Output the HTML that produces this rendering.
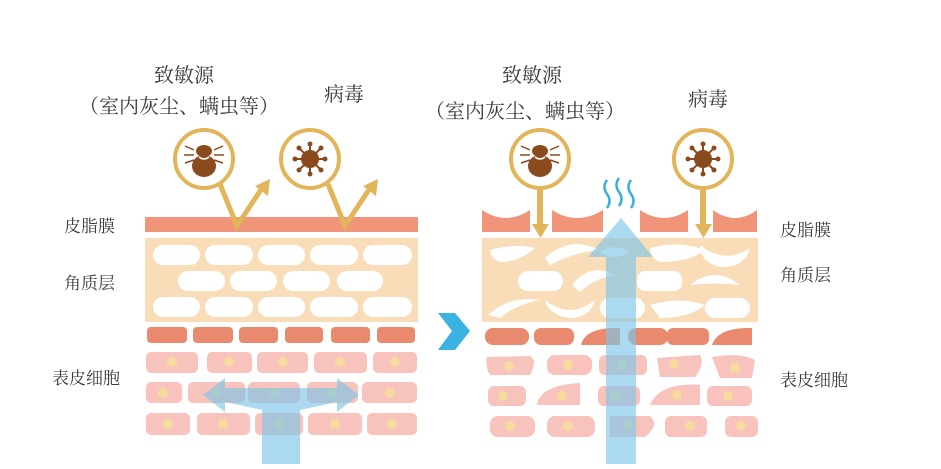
<!DOCTYPE html>
<html><head><meta charset="utf-8"><style>
body{margin:0;background:#fff}
svg text{font-family:"Liberation Serif","Noto Serif CJK SC",serif;fill:#3a3a3a}
</style></head><body>
<svg width="941" height="464" viewBox="0 0 941 464" xmlns="http://www.w3.org/2000/svg">
<!-- labels -->
<text x="184" y="82" text-anchor="middle" font-size="20">致敏源</text>
<text x="179" y="113" text-anchor="middle" font-size="20">（室内灰尘、螨虫等）</text>
<text x="344" y="101" text-anchor="middle" font-size="20">病毒</text>
<text x="532" y="82" text-anchor="middle" font-size="20">致敏源</text>
<text x="525" y="118" text-anchor="middle" font-size="20">（室内灰尘、螨虫等）</text>
<text x="708" y="106" text-anchor="middle" font-size="20">病毒</text>
<text x="64" y="232" font-size="17">皮脂膜</text>
<text x="64" y="289" font-size="17">角质层</text>
<text x="52" y="384" font-size="17">表皮细胞</text>
<text x="780" y="236" font-size="17">皮脂膜</text>
<text x="780" y="281" font-size="17">角质层</text>
<text x="780" y="386" font-size="17">表皮细胞</text>

<!-- LEFT PANEL -->
<rect x="145" y="217" width="273" height="15" fill="#f0957a"/>
<rect x="145" y="238" width="273" height="84" fill="#f9dcb8"/>
<g fill="#fff">
<rect x="153" y="245" width="47" height="20" rx="10"/><rect x="205" y="245" width="48" height="20" rx="10"/><rect x="258" y="245" width="47" height="20" rx="10"/><rect x="310" y="245" width="48" height="20" rx="10"/><rect x="363" y="245" width="49" height="20" rx="10"/>
<rect x="178" y="271" width="47" height="20" rx="10"/><rect x="230" y="271" width="47" height="20" rx="10"/><rect x="283" y="271" width="47" height="20" rx="10"/><rect x="337" y="271" width="46" height="20" rx="10"/>
<rect x="153" y="297" width="47" height="20" rx="10"/><rect x="205" y="297" width="48" height="20" rx="10"/><rect x="258" y="297" width="47" height="20" rx="10"/><rect x="310" y="297" width="48" height="20" rx="10"/><rect x="363" y="297" width="49" height="20" rx="10"/>
</g>
<g fill="#e98a6e">
<rect x="147" y="327" width="40" height="16" rx="4"/><rect x="193" y="327" width="40" height="16" rx="4"/><rect x="239" y="327" width="39" height="16" rx="4"/><rect x="285" y="327" width="38" height="16" rx="4"/><rect x="331" y="327" width="39" height="16" rx="4"/><rect x="377" y="327" width="38" height="16" rx="4"/>
</g>
<g fill="#f8c3bd">
<rect x="146" y="352" width="52" height="21" rx="5"/><rect x="207" y="352" width="45" height="21" rx="5"/><rect x="257" y="352" width="51" height="21" rx="5"/><rect x="314" y="352" width="53" height="21" rx="5"/><rect x="373" y="352" width="44" height="21" rx="5"/>
<rect x="146" y="382" width="36" height="21" rx="5"/><rect x="188" y="382" width="57" height="21" rx="5"/><rect x="248" y="382" width="52" height="21" rx="5"/><rect x="307" y="382" width="51" height="21" rx="5"/><rect x="362" y="382" width="55" height="21" rx="5"/>
<rect x="146" y="413" width="44" height="22" rx="5"/><rect x="197" y="413" width="53" height="22" rx="5"/><rect x="255" y="413" width="48" height="22" rx="5"/><rect x="308" y="413" width="54" height="22" rx="5"/><rect x="367" y="413" width="50" height="22" rx="5"/>
</g>
<g fill="#f6dc9c">
<circle cx="172" cy="362" r="5"/><circle cx="229" cy="362" r="5"/><circle cx="283" cy="362" r="5"/><circle cx="340" cy="362" r="5"/><circle cx="395" cy="362" r="5"/>
<circle cx="163" cy="393" r="5"/><circle cx="216" cy="393" r="5"/><circle cx="274" cy="393" r="5"/><circle cx="332" cy="393" r="5"/><circle cx="390" cy="393" r="5"/>
<circle cx="168" cy="424" r="5"/><circle cx="223" cy="424" r="5"/><circle cx="279" cy="424" r="5"/><circle cx="335" cy="424" r="5"/><circle cx="392" cy="424" r="5"/>
</g>
<!-- blue split arrow -->
<g fill="#7fc6e8" opacity="0.65">
<rect x="262" y="395" width="38" height="69"/>
<path d="M262 410 L262 388 L225 388 L225 378 L203 395 L225 412 L225 402 L262 410Z"/>
<path d="M300 410 L300 388 L337 388 L337 378 L359 395 L337 412 L337 402 L300 410Z"/>
<path d="M225 388 L281 388 L281 410 L262 410Z M281 388 L337 388 L300 410 L281 410Z"/>
</g>
<!-- left circles & bounce arrows -->
<g stroke="#e3b55a" stroke-width="5" fill="none" stroke-linejoin="miter">
<path d="M220 184 L237 226 L262 188"/>
<path d="M328 184 L345 226 L370 188"/>
</g>
<path d="M255 186 L270 179 L268 196Z M363 186 L378 179 L376 196Z" fill="#e3b55a"/>
<circle cx="204" cy="159" r="29" fill="#fff" stroke="#e3b55a" stroke-width="4"/>
<circle cx="310" cy="159" r="29" fill="#fff" stroke="#e3b55a" stroke-width="4"/>

<!-- RIGHT PANEL -->
<g fill="#f0957a">
<path d="M482 210 Q506 226 530 210 L530 232 L482 232Z"/>
<path d="M552 210 Q577 226 603 210 L603 232 L552 232Z"/>
<path d="M640 210 Q664 226 688 210 L688 232 L640 232Z"/>
<path d="M713 210 Q735 226 757 210 L757 232 L713 232Z"/>
</g>
<rect x="482" y="238" width="276" height="84" fill="#f9dcb8"/>
<g fill="#fff">
<path d="M490 250 Q515 243 535 248 Q520 262 500 262 Q490 258 490 250Z"/>
<path d="M545 258 Q570 235 600 250 Q575 252 550 265Z"/>
<path d="M600 252 Q615 242 630 252 Q615 262 600 252Z"/>
<path d="M650 248 Q680 240 705 250 Q690 262 660 262 Q650 258 650 248Z"/>
<path d="M700 245 Q725 265 750 248 Q745 268 720 267 Q700 262 700 245Z"/>
<rect x="518" y="271" width="45" height="20" rx="10"/>
<path d="M572 285 Q590 262 615 275 Q595 278 580 292Z"/>
<rect x="637" y="271" width="45" height="20" rx="8"/>
<path d="M690 285 Q715 265 740 285 Q715 282 690 285Z"/>
<path d="M488 315 Q510 295 540 300 Q515 305 500 318Z"/>
<path d="M545 300 Q570 320 595 300 Q590 318 570 318 Q548 315 545 300Z"/>
<rect x="600" y="298" width="45" height="20" rx="10"/>
<path d="M650 305 Q680 296 705 305 Q690 318 660 318Z"/>
<rect x="705" y="298" width="45" height="20" rx="10"/>
</g>
<g fill="#e98a6e">
<rect x="485" y="328" width="44" height="17" rx="8"/><rect x="534" y="328" width="40" height="17" rx="7"/><path d="M581 345 Q585 327 620 328 L620 345Z"/><rect x="628" y="328" width="40" height="17" rx="8"/><rect x="667" y="328" width="42" height="17" rx="6"/><path d="M712 345 Q718 327 752 328 L752 345Z"/>
</g>
<g fill="#f8c3bd">
<path d="M487 357 L530 356 Q538 360 530 375 L490 375 Q485 367 487 357Z"/>
<rect x="547" y="355" width="45" height="20" rx="8"/><rect x="599" y="355" width="48" height="20" rx="6"/>
<path d="M657 358 L700 355 Q705 365 695 377 L660 377Z"/><path d="M712 357 Q740 352 755 360 L752 378 L720 378Z"/>
<rect x="488" y="386" width="38" height="20" rx="6"/><path d="M537 405 Q540 385 580 383 L580 405Z"/><rect x="598" y="386" width="42" height="20" rx="6"/><path d="M650 405 Q660 382 700 385 L700 405Z"/><rect x="707" y="386" width="45" height="20" rx="6"/>
<rect x="490" y="416" width="45" height="21" rx="8"/><rect x="547" y="416" width="48" height="21" rx="8"/><path d="M610 416 L650 416 Q660 425 645 437 L610 437Z"/><rect x="665" y="416" width="42" height="21" rx="6"/><rect x="725" y="416" width="33" height="21" rx="6"/>
</g>
<g fill="#f6dc9c">
<circle cx="509" cy="366" r="5"/><circle cx="568" cy="365" r="5"/><circle cx="622" cy="365" r="5"/><circle cx="674" cy="364" r="5"/><circle cx="735" cy="368" r="5"/>
<circle cx="503" cy="396" r="5"/><circle cx="562" cy="396" r="5"/><circle cx="615" cy="396" r="5"/><circle cx="677" cy="395" r="5"/><circle cx="728" cy="396" r="5"/>
<circle cx="510" cy="426" r="5"/><circle cx="568" cy="426" r="5"/><circle cx="628" cy="426" r="5"/><circle cx="690" cy="426" r="5"/><circle cx="741" cy="426" r="5"/>
</g>
<!-- right circles & down arrows -->
<g fill="#e3b55a">
<rect x="537" y="188" width="6" height="38"/><path d="M532 224 L549 224 L540.5 238Z"/>
<rect x="700" y="188" width="6" height="38"/><path d="M695 224 L712 224 L703.5 238Z"/>
</g>
<circle cx="540" cy="159" r="29" fill="#fff" stroke="#e3b55a" stroke-width="4"/>
<circle cx="703" cy="159" r="29" fill="#fff" stroke="#e3b55a" stroke-width="4"/>
<!-- up arrow -->
<g fill="#7fc6e8" opacity="0.65">
<rect x="606" y="255" width="30" height="209"/>
<path d="M588 257 L621 218 L653 257Z"/>
</g>
<g stroke="#3aaede" stroke-width="2.5" fill="none">
<path d="M607 180 q-5 7 0 14 q5 7 0 14"/><path d="M619 178 q-5 7 0 14 q5 7 0 14"/><path d="M631 180 q-5 7 0 14 q5 7 0 14"/>
</g>
<!-- middle arrow -->
<path d="M438 313 L455 313 L470 331 L455 350 L438 350 L452 331Z" fill="#3ab2e2"/>

<!-- mite icons -->
<g fill="#8b4a1e">
<ellipse cx="204" cy="166" rx="12" ry="11"/><ellipse cx="204" cy="151" rx="8" ry="6"/>
<ellipse cx="540" cy="166" rx="12" ry="11"/><ellipse cx="540" cy="151" rx="8" ry="6"/>
</g>
<g stroke="#8b4a1e" stroke-width="1.5" fill="none">
<path d="M194 150 l-9 -4 M194 155 l-10 0 M194 160 l-9 3 M214 150 l9 -4 M214 155 l10 0 M214 160 l9 3"/>
<path d="M530 150 l-9 -4 M530 155 l-10 0 M530 160 l-9 3 M550 150 l9 -4 M550 155 l10 0 M550 160 l9 3"/>
</g>
<path d="M199 157 q5 4 10 0" stroke="#fff" stroke-width="1.5" fill="none"/>
<path d="M535 157 q5 4 10 0" stroke="#fff" stroke-width="1.5" fill="none"/>
<!-- virus icons -->
<g stroke="#8b4a1e" stroke-width="2">
<path d="M310 144 L310 174 M295 159 L325 159 M299 148 L321 170 M321 148 L299 170"/>
<path d="M703 144 L703 174 M688 159 L718 159 M692 148 L714 170 M714 148 L692 170"/>
</g>
<g fill="#8b4a1e">
<circle cx="310" cy="159" r="9"/><circle cx="310" cy="144" r="2.5"/><circle cx="310" cy="174" r="2.5"/><circle cx="295" cy="159" r="2.5"/><circle cx="325" cy="159" r="2.5"/><circle cx="299" cy="148" r="2.5"/><circle cx="321" cy="170" r="2.5"/><circle cx="321" cy="148" r="2.5"/><circle cx="299" cy="170" r="2.5"/>
<circle cx="703" cy="159" r="9"/><circle cx="703" cy="144" r="2.5"/><circle cx="703" cy="174" r="2.5"/><circle cx="688" cy="159" r="2.5"/><circle cx="718" cy="159" r="2.5"/><circle cx="692" cy="148" r="2.5"/><circle cx="714" cy="170" r="2.5"/><circle cx="714" cy="148" r="2.5"/><circle cx="692" cy="170" r="2.5"/>
</g>
</svg>
</body></html>
